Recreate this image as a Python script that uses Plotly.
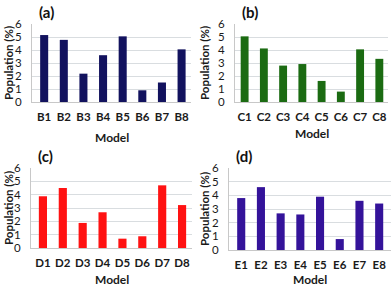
import plotly.graph_objects as go

cats_a = ["B1", "B2", "B3", "B4", "B5", "B6", "B7", "B8"]
vals_a = [5.15, 4.78, 2.18, 3.6, 5.05, 0.9, 1.5, 4.05]
cats_b = ["C1", "C2", "C3", "C4", "C5", "C6", "C7", "C8"]
vals_b = [5.05, 4.12, 2.8, 2.92, 1.62, 0.8, 4.05, 3.32]
cats_c = ["D1", "D2", "D3", "D4", "D5", "D6", "D7", "D8"]
vals_c = [3.88, 4.5, 1.88, 2.68, 0.7, 0.88, 4.7, 3.22]
cats_d = ["E1", "E2", "E3", "E4", "E5", "E6", "E7", "E8"]
vals_d = [3.8, 4.6, 2.68, 2.6, 3.9, 0.8, 3.6, 3.4]
panel_labels = ["(a)", "(b)", "(c)", "(d)"]
y_ticks = [0, 1, 2, 3, 4, 5, 6]
x_title = "Model"
y_title = "Population (%)"

W, H = 392, 287
colors = ["#12125e", "#1b6b12", "#ff1212", "#34139a"]
# pixel boxes: x0, x1, ytop, ybottom ; category ranges ; title positions
boxes = [(32, 191, 24, 102), (235, 388, 24, 102), (31, 192, 168, 248), (229, 391, 168, 250)]
xranges = [(-0.62, 7.48), (-0.5, 7.45), (-0.6, 7.5), (-0.62, 7.6)]
model_y = [137, 134, 279, 279]
ytitle_x = [9, 205, 8, 204]
data = [(cats_a, vals_a), (cats_b, vals_b), (cats_c, vals_c), (cats_d, vals_d)]

FONT = "Lato"
TXT = "#1a1a1a"
fig = go.Figure()
annotations = []
for i, ((cats, vals), col, (x0, x1, yt, yb)) in enumerate(zip(data, colors, boxes)):
    n = "" if i == 0 else str(i + 1)
    fig.add_trace(go.Bar(x=cats, y=vals, marker=dict(color=col, line=dict(width=0)),
                         xaxis="x" + n, yaxis="y" + n, showlegend=False))
    xd = [x0 / W, x1 / W]
    yd = [1 - yb / H, 1 - yt / H]
    fig.layout["xaxis" + n] = dict(domain=xd, anchor="y" + n, showgrid=False, automargin=False,
                                   range=list(xranges[i]),
                                   showline=True, linecolor="#c8c8c8", linewidth=1,
                                   ticks="", ticklabelstandoff=4,
                                   tickfont=dict(family=FONT, size=11.5, color=TXT))
    fig.layout["yaxis" + n] = dict(domain=yd, anchor="x" + n, range=[0, 6], tickvals=y_ticks,
                                   showgrid=True, gridcolor="#d9dde0", gridwidth=1, automargin=False,
                                   showline=True, linecolor="#c8c8c8", linewidth=1,
                                   zeroline=False, ticks="", ticklabelstandoff=7,
                                   tickfont=dict(family=FONT, size=11.5, color=TXT))
    annotations.append(dict(text="<b>" + panel_labels[i] + "</b>", x=(x0 + 5) / W, y=1 - (yt - 12) / H,
                            xref="paper", yref="paper", xanchor="left", yanchor="middle",
                            showarrow=False, font=dict(family=FONT, size=15, color="#111")))
    annotations.append(dict(text="<b>" + x_title + "</b>", x=(x0 + x1) / 2 / W, y=1 - model_y[i] / H,
                            xref="paper", yref="paper", xanchor="center", yanchor="middle",
                            showarrow=False, font=dict(family=FONT, size=12, color=TXT)))
    annotations.append(dict(text="<b>" + y_title + "</b>", x=ytitle_x[i] / W, y=1 - (yt + yb) / 2 / H,
                            xref="paper", yref="paper", xanchor="center", yanchor="middle",
                            textangle=-90,
                            showarrow=False, font=dict(family=FONT, size=11.5, color=TXT)))

fig.update_xaxes(tickprefix="<b>", ticksuffix="</b>")
fig.update_yaxes(tickprefix="<b>", ticksuffix="</b>")
fig.update_layout(width=W, height=H, margin=dict(l=0, r=0, t=0, b=0),
                  paper_bgcolor="white", plot_bgcolor="white", bargap=0.59,
                  annotations=annotations)
fig.write_html("out.html", config={"displayModeBar": False},
               post_script="document.body.style.margin='0';document.body.style.padding='0';")
